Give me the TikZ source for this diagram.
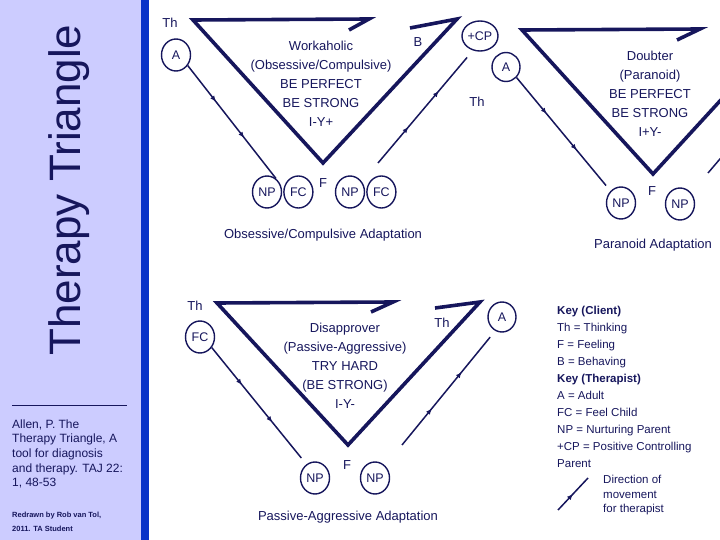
\documentclass[tikz,border=0pt]{standalone}
\usepackage{fontspec}
\setmainfont{Liberation Sans}
\usepackage{tikz}
\usetikzlibrary{positioning, arrows.meta, shapes.geometric, decorations.markings}
\definecolor{navy}{RGB}{22,22,92}
\definecolor{lavender}{RGB}{204,204,255}
\definecolor{sidebar}{RGB}{8,50,200}

\begin{document}
\begin{tikzpicture}[
        x=1pt, y=-1pt,
        every node/.style={align=center, text=navy, inner sep=0pt, font=\fontsize{13}{19}\selectfont},
        role/.style={draw=navy, ellipse, line width=1.4pt, minimum width=29pt, minimum height=32pt, font=\fontsize{12.5}{12.5}\selectfont},
        tri/.style={draw=navy, line width=3.6pt, line join=miter},
        move/.style={draw=navy, line width=1.5pt, postaction={decorate},
            decoration={markings,
                mark=at position 0.32 with {\arrow{Latex[length=6pt, width=5pt]}},
                mark=at position 0.64 with {\arrow{Latex[length=6pt, width=5pt]}}}},
        keymove/.style={draw=navy, line width=1.5pt, postaction={decorate},
            decoration={markings, mark=at position 0.5 with {\arrow{Latex[length=6pt, width=5pt]}}}},
        keytext/.style={align=left, anchor=west, font=\fontsize{11.5}{17}\selectfont}
    ]

    \useasboundingbox (0,0) rectangle (720,540);
    \clip (0,0) rectangle (720,540);

    % 1. Side panel
    \fill[lavender] (0,0) rectangle (141,540);
    \fill[sidebar] (141,0) rectangle (149,540);
    \node[rotate=90, font=\fontsize{44}{44}\selectfont] (title) at (69,190) {Therapy Triangle};
    \draw[navy, line width=0.8pt] (12,405) -- (127,405);
    \node[align=left, anchor=west, font=\fontsize{12}{14.7}\selectfont] (cite) at (12,454) {Allen, P. The\\Therapy Triangle, A\\tool for diagnosis\\and therapy. TAJ 22:\\1, 48-53};
    \node[align=left, anchor=west, font=\bfseries\fontsize{7.5}{14}\selectfont] (credit) at (12,522) {Redrawn by Rob van Tol,\\2011. TA Student};

    % 2. Obsessive/Compulsive triangle
    \coordinate (oc-th) at (193,20);
    \coordinate (oc-tip) at (369,19);
    \coordinate (oc-barb) at (349,30);
    \coordinate (oc-f) at (323,163);
    \coordinate (oc-b) at (457,19);
    \coordinate (oc-barb2) at (410,28);
    \draw[tri] (oc-barb) -- (oc-tip) -- (oc-th) -- (oc-f) -- (oc-b) -- (oc-barb2);
    \node (oc-text) at (321,83.5) {Workaholic\\(Obsessive/Compulsive)\\BE PERFECT\\BE STRONG\\I-Y+};
    \node (oc-lth) at (170,23) {Th};
    \node (oc-lb) at (418,42) {B};
    \node (oc-lf) at (323,183) {F};
    \node[role] (oc-a) at (176,55) {A};
    \node[role] (oc-np1) at (267,192) {NP};
    \node[role, right=1pt of oc-np1] (oc-fc1) {FC};
    \node[role] (oc-np2) at (350,192) {NP};
    \node[role, right=1pt of oc-np2] (oc-fc2) {FC};
    \node[role, minimum width=36pt, minimum height=30pt] (oc-cp) at (480,36) {+CP};
    \coordinate (oc-up) at (378,163);
    \draw[move] (oc-a.318) -- (oc-np1.56);
    \draw[move, shorten >=9pt] (oc-up) -- (oc-cp.244);
    \node (oc-name) at (323,235) {Obsessive/Compulsive Adaptation};

    % 3. Paranoid triangle
    \coordinate (pa-th) at (522,30);
    \coordinate (pa-tip) at (700,29);
    \coordinate (pa-barb) at (677,40);
    \coordinate (pa-f) at (653,174);
    \coordinate (pa-b) at (785,30);
    \draw[tri] (pa-barb) -- (pa-tip) -- (pa-th) -- (pa-f) -- (pa-b);
    \node (pa-text) at (650,93.5) {Doubter\\(Paranoid)\\BE PERFECT\\BE STRONG\\I+Y-};
    \node (pa-lth) at (477,102) {Th};
    \node (pa-lf) at (652,191) {F};
    \node[role, minimum width=28pt, minimum height=29pt] (pa-a) at (506,67) {A};
    \node[role] (pa-np1) at (621,203) {NP};
    \node[role] (pa-np2) at (680,204) {NP};
    \coordinate (pa-up) at (708,173);
    \coordinate (pa-upend) at (800,65);
    \draw[move, shorten >=7pt] (pa-a.315) -- (pa-np1.131);
    \draw[move] (pa-up) -- (pa-upend);
    \node (pa-name) at (653,245) {Paranoid Adaptation};

    % 4. Passive-Aggressive triangle
    \coordinate (pg-th) at (217,303);
    \coordinate (pg-tip) at (393,302);
    \coordinate (pg-barb) at (371,312);
    \coordinate (pg-f) at (348,445);
    \coordinate (pg-b) at (480,302);
    \coordinate (pg-barb2) at (435,308);
    \draw[tri] (pg-barb) -- (pg-tip) -- (pg-th) -- (pg-f) -- (pg-b) -- (pg-barb2);
    \node (pg-text) at (345,366) {Disapprover\\(Passive-Aggressive)\\TRY HARD\\(BE STRONG)\\I-Y-};
    \node (pg-lth) at (195,306) {Th};
    \node (pg-lth2) at (442,323) {Th};
    \node (pg-lf) at (347,465) {F};
    \node[role] (pg-fc) at (200,337) {FC};
    \node[role] (pg-np1) at (315,478) {NP};
    \node[role] (pg-np2) at (375,478) {NP};
    \node[role, minimum width=28pt, minimum height=30pt] (pg-a) at (502,317) {A};
    \coordinate (pg-up) at (402,445);
    \draw[move, shorten >=8pt] (pg-fc.318) -- (pg-np1.122);
    \draw[move, shorten >=8pt] (pg-up) -- (pg-a.244);
    \node (pg-name) at (348,517) {Passive-Aggressive Adaptation};

    % 5. Key
    \node[keytext] (key) at (557,387) {\textbf{Key (Client)}\\Th = Thinking\\F = Feeling\\B = Behaving\\\textbf{Key (Therapist)}\\A = Adult\\FC = Feel Child\\NP = Nurturing Parent\\+CP = Positive Controlling\\Parent};
    \coordinate (key-from) at (558,510);
    \coordinate (key-to) at (588,478);
    \draw[keymove] (key-from) -- (key-to);
    \node[keytext, font=\fontsize{11.5}{14.5}\selectfont] (key-dir) at (603,495.5) {Direction of\\movement\\for therapist};

\end{tikzpicture}
\end{document}
